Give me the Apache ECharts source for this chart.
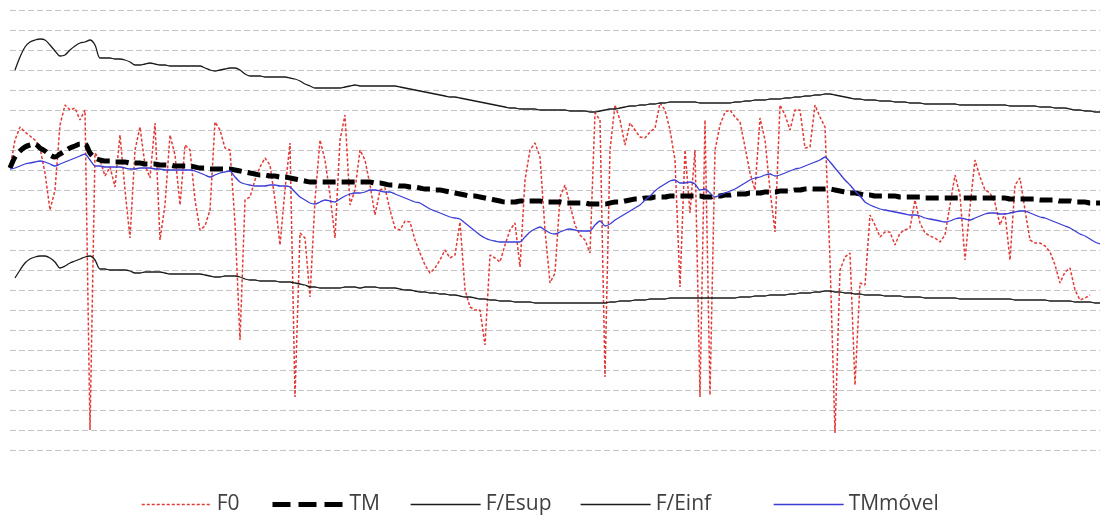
<!DOCTYPE html>
<html>
<head>
<meta charset="utf-8">
<script src="https://cdn.jsdelivr.net/npm/echarts@6/dist/echarts.min.js"></script>
<style>
  html, body { margin: 0; padding: 0; background: #ffffff; }
  #chart { width: 1100px; height: 515px; }
</style>
</head>
<body>
<div id="chart"></div>
<script>
// Fundamental frequency contour (F0), its mean (TM), the upper/lower
// bands (F/Esup, F/Einf) and the moving mean (TMmóvel), one value per frame.

const F0 = [
  282,310,323,318,314,310,302,277,240,260,
  325,345,340,342,330,340,20,297,290,274,
  283,263,315,260,212,300,323,285,272,327,
  210,245,315,295,245,305,300,250,220,224,
  240,328,320,302,300,227,110,250,253,270,
  283,292,285,250,205,260,307,53,217,212,
  153,250,310,290,255,212,310,335,245,260,
  300,290,265,235,260,262,240,222,220,229,
  228,210,197,185,177,182,190,200,192,195,
  228,160,143,140,140,105,195,192,188,205,
  220,227,183,270,300,307,293,220,167,177,
  253,265,245,225,215,210,197,337,330,73,
  300,345,330,305,327,320,313,312,318,322,
  347,340,320,290,163,300,237,300,53,330,
  55,300,325,338,340,333,328,303,277,260,
  332,310,260,218,345,335,320,340,340,302,
  303,345,333,323,190,17,180,193,197,65,
  167,165,235,225,213,218,218,205,217,220,
  222,250,227,217,214,212,208,215,245,275,
  255,190,243,290,273,260,257,247,225,237,
  190,265,272,240,210,207,207,204,198,185,
  167,178,182,160,150,152,155,null,null
];

const TM = [
  282,293,299,303,305,306,302,299,295,293,
  296,299,302,304,306,306,297,292,290,289,
  289,288,288,288,287,287,287,286,286,286,
  285,285,285,284,284,284,284,283,282,282,
  281,281,281,281,281,280,279,278,277,276,
  275,275,274,274,273,273,272,271,270,269,
  268,268,268,268,268,268,268,268,268,268,
  268,268,268,267,267,266,265,265,264,264,
  263,263,262,261,261,260,260,259,258,257,
  256,255,254,254,253,252,251,250,249,248,
  248,248,249,249,249,249,249,248,248,248,
  248,247,247,247,247,247,246,246,246,246,
  247,248,248,249,250,251,251,252,252,253,
  253,253,254,254,254,254,254,254,254,253,
  253,254,254,255,255,256,256,256,257,257,
  257,258,258,258,259,259,259,260,260,261,
  261,261,261,261,261,260,259,258,257,257,
  256,255,255,254,254,254,254,254,253,253,
  253,253,253,252,252,252,252,252,252,252,
  252,252,252,252,252,252,252,252,252,252,
  251,251,251,251,251,251,250,250,250,250,
  249,249,249,248,248,248,247,247,247
];

const FEsup = [
  null,380,393,403,408,410,411,410,405,399,
  394,395,400,404,407,408,410,405,392,392,
  392,391,391,390,388,385,385,386,387,386,
  385,385,384,384,384,384,384,384,384,382,
  380,379,380,381,382,382,380,376,374,374,
  374,373,373,373,373,373,372,371,369,366,
  364,362,362,362,362,362,362,363,364,365,
  364,364,364,364,364,364,364,364,363,362,
  361,360,359,358,357,356,355,354,353,353,
  352,351,350,349,348,347,346,345,344,343,
  342,342,341,341,341,341,340,340,340,340,
  340,340,339,339,339,339,338,338,339,340,
  341,341,342,343,344,344,345,345,346,346,
  347,347,348,348,348,348,348,348,347,347,
  347,347,347,347,347,348,348,349,349,350,
  350,350,351,351,351,352,352,353,353,354,
  354,355,355,356,356,355,354,353,352,351,
  351,350,350,350,349,349,349,348,348,348,
  347,347,347,346,346,346,346,346,346,346,
  345,345,345,345,345,345,345,345,345,345,
  344,344,344,344,344,344,343,343,343,342,
  342,342,341,340,340,339,339,338,338
];

const FEinf = [
  null,172,180,187,191,193,194,194,192,188,
  182,184,187,189,191,193,194,190,181,181,
  180,180,180,180,179,177,177,178,178,178,
  178,177,176,176,176,176,176,176,176,175,
  174,173,173,174,174,174,173,171,170,170,
  169,169,169,169,168,168,168,167,166,165,
  163,163,162,162,162,162,162,163,163,163,
  162,163,163,163,162,162,162,162,161,160,
  160,159,158,158,157,157,156,156,155,155,
  154,153,153,152,151,151,150,150,149,149,
  149,148,148,148,148,147,147,147,147,147,
  147,147,147,147,147,147,147,147,147,147,
  148,148,149,149,149,150,150,150,151,151,
  151,151,152,152,152,152,152,152,152,152,
  152,152,152,152,152,152,153,153,153,154,
  154,154,155,155,155,155,156,156,157,157,
  157,158,158,159,159,158,158,157,157,156,
  156,155,155,155,155,154,154,154,154,153,
  153,153,153,152,152,152,152,152,152,152,
  151,151,151,151,151,151,151,151,151,151,
  151,150,150,150,150,150,150,150,149,149,
  149,149,149,148,148,148,148,147,147
];

const TMmovel = [
  281,282,284,286,287,288,289,288,286,284,
  286,288,290,292,294,296,290,284,284,283,
  283,283,283,282,281,281,282,282,282,281,
  281,280,280,280,280,280,280,279,277,275,
  273,275,277,278,279,273,268,266,265,264,
  264,264,265,265,264,264,263,258,253,250,
  247,246,248,250,249,248,251,254,256,257,
  257,258,260,260,259,258,258,256,254,252,
  250,248,247,244,241,239,237,235,233,232,
  231,227,223,219,215,212,210,209,208,208,
  208,208,208,213,218,221,223,220,217,216,
  218,220,221,220,219,219,219,225,229,224,
  226,230,233,236,239,242,245,250,254,259,
  263,266,269,270,267,267,268,266,260,261,
  257,253,255,257,259,261,264,267,270,272,
  273,275,276,274,275,277,279,281,282,284,
  286,288,290,293,288,282,276,270,265,259,
  254,248,245,243,241,240,239,238,237,236,
  235,235,234,232,231,230,229,228,229,231,
  232,231,230,232,234,236,237,237,236,236,
  237,238,239,239,237,235,233,232,230,228,
  226,224,222,219,216,214,211,208,206
];

// Frame numbers for the category axis (not drawn)
const frames = F0.map((_, i) => i + 1);

const legendNames = ['F0', 'TM', 'F/Esup', 'F/Einf', 'TMmóvel'];

const COLORS = {
  f0: '#e23a36',
  tm: '#000000',
  band: '#1a1a1a',
  moving: '#3c3cd6'
};

const chart = echarts.init(document.getElementById('chart'), null, { renderer: 'canvas' });

const legendText = { fontFamily: 'Open Sans', fontSize: 21, color: '#404040' };
const legendLefts = [136, 265, 405, 575, 768];
const legendWidths = [70, 72, 70, 70, 70];
const legendLines = [
  { color: COLORS.f0, width: 1.5, type: [3, 2] },
  { color: COLORS.tm, width: 5, type: [18, 8] },
  { color: COLORS.band, width: 1.3, type: 'solid' },
  { color: COLORS.band, width: 1.3, type: 'solid' },
  { color: COLORS.moving, width: 1.3, type: 'solid' }
];

chart.setOption({
  animation: false,
  backgroundColor: '#ffffff',
  grid: { left: 10, right: 0, top: 10, bottom: 65 },
  legend: legendNames.map((name, i) => ({
    data: [name],
    left: legendLefts[i],
    top: 489,
    itemWidth: legendWidths[i],
    itemHeight: 14,
    itemGap: 6,
    textStyle: legendText,
    itemStyle: { opacity: 0 },
    lineStyle: legendLines[i],
    selectedMode: false
  })),
  xAxis: {
    type: 'category',
    data: frames,
    boundaryGap: false,
    axisLine: { show: false },
    axisTick: { show: false },
    axisLabel: { show: false },
    splitLine: { show: false }
  },
  yAxis: {
    type: 'value',
    min: 0,
    max: 440,
    interval: 20,
    axisLine: { show: false },
    axisTick: { show: false },
    axisLabel: { show: false },
    splitLine: { show: true, lineStyle: { color: '#c4c4c4', width: 1, type: [6, 3] } }
  },
  series: [
    {
      name: 'F0', type: 'line', data: F0, symbol: 'none', connectNulls: false,
      lineStyle: { color: COLORS.f0, width: 1.5, type: [3, 2] },
      itemStyle: { color: COLORS.f0 }
    },
    {
      name: 'TM', type: 'line', data: TM, symbol: 'none', smooth: 0.3,
      lineStyle: { color: COLORS.tm, width: 5, type: [13, 6] },
      itemStyle: { color: COLORS.tm }
    },
    {
      name: 'F/Esup', type: 'line', data: FEsup, symbol: 'none', smooth: 0.3,
      lineStyle: { color: COLORS.band, width: 1.3 },
      itemStyle: { color: COLORS.band }
    },
    {
      name: 'F/Einf', type: 'line', data: FEinf, symbol: 'none', smooth: 0.3,
      lineStyle: { color: COLORS.band, width: 1.3 },
      itemStyle: { color: COLORS.band }
    },
    {
      name: 'TMmóvel', type: 'line', data: TMmovel, symbol: 'none', smooth: 0.2,
      lineStyle: { color: COLORS.moving, width: 1.3 },
      itemStyle: { color: COLORS.moving }
    }
  ]
});
</script>
</body>
</html>
